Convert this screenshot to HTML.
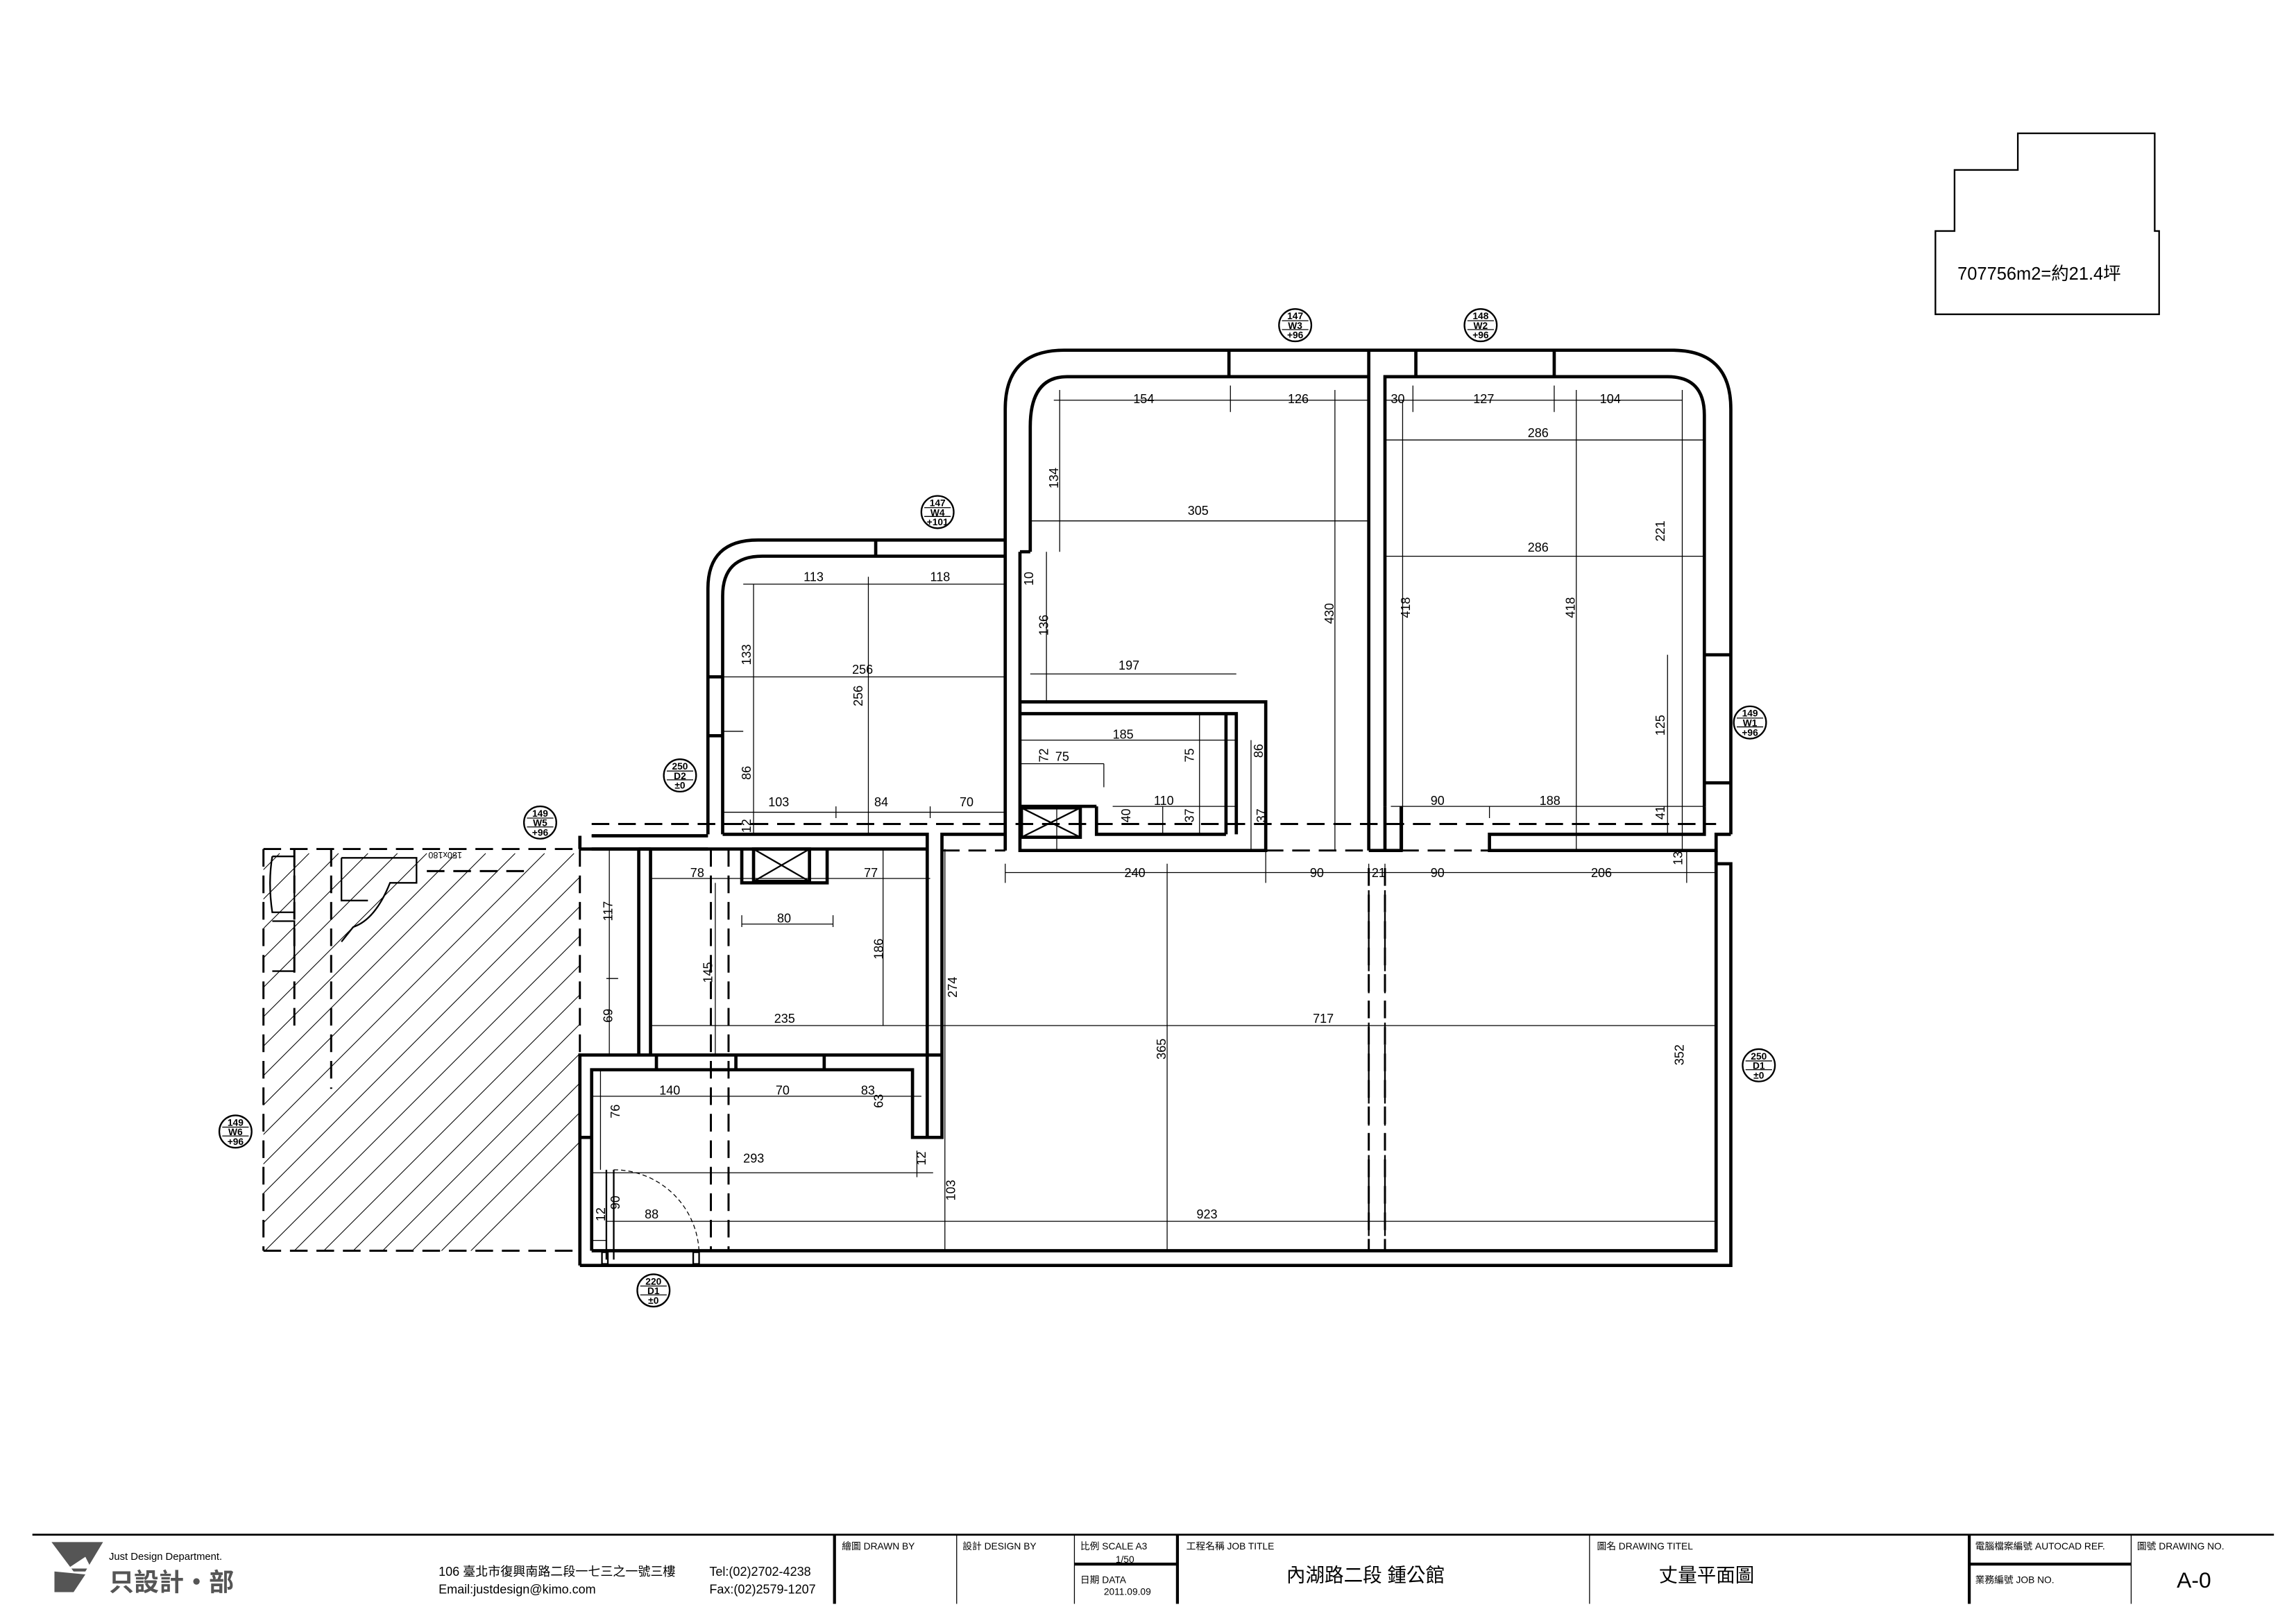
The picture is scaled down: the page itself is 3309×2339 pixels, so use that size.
<!DOCTYPE html>
<html><head><meta charset="utf-8">
<style>
html,body{margin:0;padding:0;background:#fff;}
svg{display:block;}
text{font-family:"Liberation Sans","Noto Sans CJK TC",sans-serif;fill:#000;}
.w{stroke:#000;stroke-width:2.2;fill:none;}
.m{stroke:#000;stroke-width:1.1;fill:none;}
.t{stroke:#000;stroke-width:0.6;fill:none;}
.d{stroke:#000;stroke-width:1.4;fill:none;stroke-dasharray:12 6;}
.h{stroke:#000;stroke-width:0.5;fill:none;}
.dim{font-size:8.5px;}
</style></head>
<body>
<svg width="3309" height="2339" viewBox="0 0 1560 1103" preserveAspectRatio="none" xmlns="http://www.w3.org/2000/svg">
<rect x="0" y="0" width="1560" height="1103" fill="#fff"/>

<!-- area box top right -->
<path class="m" d="M1315 157 H1328 V115.5 H1371 V90.6 H1464 V157 H1467 V213.6 H1315 Z" stroke-width="0.9"/>
<text x="1330" y="190" font-size="12">707756m2=約21.4坪</text>

<!-- hatched area -->
<defs>
<clipPath id="hc"><rect x="179" y="577" width="215" height="273"/></clipPath>
</defs>
<g clip-path="url(#hc)">
<g class="h">
<path d="M150 880 L450 580 M170 880 L470 580 M190 880 L490 580 M210 880 L510 580 M230 880 L530 580 M130 880 L430 580 M110 880 L410 580 M90 880 L390 580 M70 880 L370 580 M50 880 L350 580 M30 880 L330 580 M10 880 L310 580 M-10 880 L290 580 M-30 880 L270 580 M-50 880 L250 580 M-70 880 L230 580 M-90 880 L210 580 M-110 880 L190 580 M-130 880 L170 580 M250 880 L550 580 M270 880 L570 580 M290 880 L590 580"/>
</g>
</g>
<path class="d" d="M179 577 H394 M179 850 H394 M179 577 V850 M394 577 V850" stroke-width="1"/>
<path class="d" d="M225 577 V740 M200 577 V700 M290 592 H356" />
<path class="m" d="M185 582 H200 V620 H185 Q182 600 185 582 M185 626 H200 V660 H185 M232 583 H283 V600 H265 Q255 625 240 630 L232 640 M232 583 V612 H250"/>
<text x="290" y="583" font-size="6" transform="rotate(180 302 581)">150x180</text>

<!-- dashed horizontal lines across -->
<path class="d" d="M402 560 H1166"/>
<path class="d" d="M402 568 H481 M640 578 H683 M860 578 H930 M952 578 H1012"/>

<!-- upper left room -->
<path class="w" d="M481 567 V400 Q481 367 515 367 H683"/>
<path class="w" d="M491 567 V405 Q491 378 518 378 H683"/>
<path class="w" d="M595 367 V378"/>
<path class="w" d="M481 460 H491 M481 500 H491"/>

<!-- right big block -->
<path class="w" d="M683 578 V278 Q683 238 723 238 H1136 Q1176 238 1176 278 V567"/>
<path class="w" d="M700 375 V290 Q700 256 725 256 H930"/>
<path class="w" d="M941 548 V256 H1133 Q1158 256 1158 282 V548"/>
<path class="w" d="M835 238 V256 M962 238 V256 M1056 238 V256"/>
<path class="w" d="M930 238 V578 M941 548 V578 H952 V548 M930 578 H941"/>
<path class="w" d="M1158 445 H1176 M1158 532 H1176"/>
<path class="w" d="M1158 548 V567 H1012 V578 H1166 V567 H1176"/>

<!-- kitchen -->
<path class="w" d="M693 375 H700 M693 375 V578 H860 V477 H693 M693 485 H840 V567"/>
<path class="w" d="M833 485 V567 M745 548 V567 H833 M693 548 H745"/>
<rect class="w" x="694" y="549" width="40" height="20" stroke-width="1.6"/>
<path class="m" d="M694 549 L734 569 M734 549 L694 569"/>

<!-- left wall segments -->
<path class="w" d="M394 577 H481 M402 568 H481 M491 567 H630 V773 H640 V567 H683 M394 568 V577"/>
<path class="w" d="M402 577 H630"/>
<path class="w" d="M434 577 V717 M442 577 V717 M442 577 H434"/>
<path class="w" d="M504 577 V600 H562 V577"/>
<rect class="w" x="512" y="577" width="38" height="22" stroke-width="1.6"/>
<path class="m" d="M512 577 L550 599 M550 577 L512 599"/>

<!-- lower area -->
<path class="w" d="M394 860 V717 H640 M402 850 V727 H620 V773 H630"/>
<path class="w" d="M446 717 V727 M500 717 V727 M560 717 V727"/>
<path class="w" d="M394 860 H1176 V587 H1166 V850 H402"/>
<path class="w" d="M1166 578 V587"/>
<path class="w" d="M394 773 H402"/>
<path class="d" d="M483 577 V850 M495 577 V850 M930 590 V850 M941 590 V850"/>
<path class="m" d="M930 590 V850 M941 590 V850" stroke-dasharray="10 5"/>
<!-- door -->
<path class="m" d="M412 795 V856 M417 795 V856"/>
<path class="t" d="M417 795 A58 58 0 0 1 475 853" stroke-dasharray="3 2"/>
<rect class="m" x="471" y="851" width="4" height="8"/>
<rect class="m" x="409" y="851" width="4" height="8"/>

<!-- dimension lines -->
<g class="t">
<path d="M505 397 H683 M512 397 V567 M590 392 V567 M491 460 H683 M505 497 H491 M491 552 H683 M568 548 V556 M632 548 V556"/>
<path d="M716 272 H930 M720 265 V375 M836 262 V280 M700 354 H930 M907 265 V578 M700 458 H840 M711 375 V478 M693 503 H840 M693 519 H750 M750 519 V535 M815 485 V567 M850 503 V578 M756 548 H840 M790 548 V567 M718 548 V578"/>
<path d="M941 272 H1143 M960 262 V280 M1056 262 V280 M1143 265 V578 M941 299 H1158 M941 378 H1158 M953 272 V578 M1071 265 V578 M1133 445 V567 M945 548 H1158 M1012 548 V556"/>
<path d="M683 593 H1166 M683 587 V600 M860 578 V600 M930 587 V600 M941 587 V600 M1146 578 V600 M793 587 V850"/>
<path d="M442 597 H632 M504 628 H566 M504 622 V630 M566 622 V630 M600 577 V697 M442 697 H1166 M486 600 V717 M414 577 V717 M412 665 H420"/>
<path d="M642 577 V850 M402 745 H626 M408 727 V795 M402 797 H634 M412 830 H1166 M623 782 V800 M402 843 H412"/>
</g>

<!-- dim labels -->
<g class="dim">
<text x="546" y="395">113</text><text x="632" y="395">118</text>
<text x="579" y="458">256</text>
<text x="522" y="548">103</text><text x="594" y="548">84</text><text x="652" y="548">70</text>
<text x="770" y="274">154</text><text x="875" y="274">126</text>
<text x="807" y="350">305</text>
<text x="760" y="455">197</text><text x="756" y="502">185</text><text x="717" y="517">75</text>
<text x="784" y="547">110</text>
<text x="945" y="274">30</text><text x="1001" y="274">127</text><text x="1087" y="274">104</text>
<text x="1038" y="297">286</text><text x="1038" y="375">286</text>
<text x="972" y="547">90</text><text x="1046" y="547">188</text>
<text x="764" y="596">240</text><text x="890" y="596">90</text><text x="932" y="596">21</text><text x="972" y="596">90</text><text x="1081" y="596">206</text>
<text x="469" y="596">78</text><text x="587" y="596">77</text><text x="528" y="627">80</text>
<text x="526" y="695">235</text><text x="892" y="695">717</text>
<text x="448" y="744">140</text><text x="527" y="744">70</text><text x="585" y="744">83</text>
<text x="505" y="790">293</text><text x="438" y="828">88</text><text x="813" y="828">923</text>
</g>
<g class="dim">
<text transform="translate(510 452) rotate(-90)">133</text>
<text transform="translate(510 530) rotate(-90)">86</text>
<text transform="translate(586 480) rotate(-90)">256</text>
<text transform="translate(510 566) rotate(-90)">12</text>
<text transform="translate(719 332) rotate(-90)">134</text>
<text transform="translate(702 398) rotate(-90)">10</text>
<text transform="translate(712 432) rotate(-90)">136</text>
<text transform="translate(906 424) rotate(-90)">430</text>
<text transform="translate(958 420) rotate(-90)">418</text>
<text transform="translate(1070 420) rotate(-90)">418</text>
<text transform="translate(1131 368) rotate(-90)">221</text>
<text transform="translate(1131 500) rotate(-90)">125</text>
<text transform="translate(1131 557) rotate(-90)">41</text>
<text transform="translate(1143 588) rotate(-90)">13</text>
<text transform="translate(712 518) rotate(-90)">72</text>
<text transform="translate(811 518) rotate(-90)">75</text>
<text transform="translate(858 515) rotate(-90)">86</text>
<text transform="translate(768 559) rotate(-90)">40</text>
<text transform="translate(811 559) rotate(-90)">37</text>
<text transform="translate(860 559) rotate(-90)">37</text>
<text transform="translate(416 626) rotate(-90)">117</text>
<text transform="translate(416 695) rotate(-90)">69</text>
<text transform="translate(484 668) rotate(-90)">145</text>
<text transform="translate(600 652) rotate(-90)">186</text>
<text transform="translate(650 678) rotate(-90)">274</text>
<text transform="translate(792 720) rotate(-90)">365</text>
<text transform="translate(1144 724) rotate(-90)">352</text>
<text transform="translate(421 760) rotate(-90)">76</text>
<text transform="translate(600 753) rotate(-90)">63</text>
<text transform="translate(629 792) rotate(-90)">12</text>
<text transform="translate(649 816) rotate(-90)">103</text>
<text transform="translate(421 822) rotate(-90)">90</text>
<text transform="translate(411 830) rotate(-90)">12</text>
</g>

<!-- tag circles -->
<g font-size="6.5" text-anchor="middle" font-weight="bold">
<g transform="translate(880 221)"><circle r="11" class="m"/><path class="t" d="M-9 -3 H9 M-9 3 H9"/><text y="-4">147</text><text y="2.5">W3</text><text y="9">+96</text></g>
<g transform="translate(1006 221)"><circle r="11" class="m"/><path class="t" d="M-9 -3 H9 M-9 3 H9"/><text y="-4">148</text><text y="2.5">W2</text><text y="9">+96</text></g>
<g transform="translate(637 348)"><circle r="11" class="m"/><path class="t" d="M-9 -3 H9 M-9 3 H9"/><text y="-4">147</text><text y="2.5">W4</text><text y="9">+101</text></g>
<g transform="translate(462 527)"><circle r="11" class="m"/><path class="t" d="M-9 -3 H9 M-9 3 H9"/><text y="-4">250</text><text y="2.5">D2</text><text y="9">±0</text></g>
<g transform="translate(367 559)"><circle r="11" class="m"/><path class="t" d="M-9 -3 H9 M-9 3 H9"/><text y="-4">149</text><text y="2.5">W5</text><text y="9">+96</text></g>
<g transform="translate(1189 491)"><circle r="11" class="m"/><path class="t" d="M-9 -3 H9 M-9 3 H9"/><text y="-4">149</text><text y="2.5">W1</text><text y="9">+96</text></g>
<g transform="translate(160 769)"><circle r="11" class="m"/><path class="t" d="M-9 -3 H9 M-9 3 H9"/><text y="-4">149</text><text y="2.5">W6</text><text y="9">+96</text></g>
<g transform="translate(1195 724)"><circle r="11" class="m"/><path class="t" d="M-9 -3 H9 M-9 3 H9"/><text y="-4">250</text><text y="2.5">D1</text><text y="9">±0</text></g>
<g transform="translate(444 877)"><circle r="11" class="m"/><path class="t" d="M-9 -3 H9 M-9 3 H9"/><text y="-4">220</text><text y="2.5">D1</text><text y="9">±0</text></g>
</g>

<!-- title block -->
<path stroke="#000" stroke-width="1.3" d="M22 1043 H1545"/>
<path stroke="#000" stroke-width="2" d="M567 1043 V1090 M800 1043 V1090 M1338 1043 V1090 M730 1063 H800 M1338 1063 H1448"/>
<path stroke="#000" stroke-width="0.6" d="M650 1043 V1090 M730 1043 V1090 M1080 1043 V1090 M1448 1043 V1090"/>
<!-- logo -->
<path d="M35 1048 H70 L58 1068 H50 Z" fill="#555"/>
<path d="M37 1068 V1082 H50 L58 1070 Z" fill="#555"/>
<path d="M46 1066 L58 1058 L62 1066 Z" fill="#fff"/>
<text x="74" y="1060" font-size="7" fill="#444">Just Design Department.</text>
<text x="74" y="1081" font-size="17" font-weight="bold" style="fill:#555">只設計・部</text>
<text x="298" y="1071" font-size="8.5">106 臺北市復興南路二段一七三之一號三樓</text>
<text x="298" y="1083" font-size="8.5">Email:justdesign@kimo.com</text>
<text x="482" y="1071" font-size="8.5">Tel:(02)2702-4238</text>
<text x="482" y="1083" font-size="8.5">Fax:(02)2579-1207</text>
<g font-size="6.5">
<text x="572" y="1053">繪圖  DRAWN BY</text>
<text x="654" y="1053">設計  DESIGN BY</text>
<text x="734" y="1053">比例   SCALE   A3</text>
<text x="758" y="1062">1/50</text>
<text x="734" y="1076">日期   DATA</text>
<text x="750" y="1084">2011.09.09</text>
<text x="806" y="1053">工程名稱   JOB TITLE</text>
<text x="1085" y="1053">圖名   DRAWING   TITEL</text>
<text x="1342" y="1053">電腦檔案編號 AUTOCAD REF.</text>
<text x="1452" y="1053">圖號   DRAWING NO.</text>
<text x="1342" y="1076">業務編號  JOB NO.</text>
</g>
<text x="874" y="1075" font-size="13">內湖路二段  鍾公館</text>
<text x="1127" y="1075" font-size="13">丈量平面圖</text>
<text x="1479" y="1079" font-size="15">A-0</text>
</svg>
</body></html>
